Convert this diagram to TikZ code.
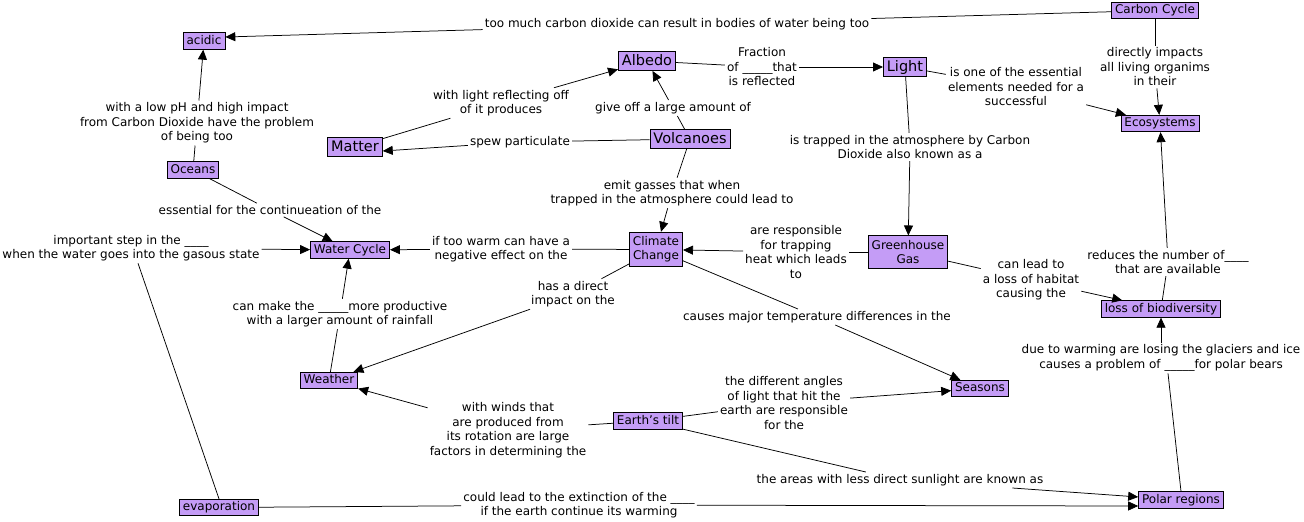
\documentclass[tikz,border=0pt]{standalone}
\usepackage{fontspec}
\setmainfont{DejaVu Sans}
\usetikzlibrary{arrows.meta,calc}
\definecolor{conc}{RGB}{196,156,246}
\begin{document}
\begin{tikzpicture}[x=1pt,y=-1pt,
 concept/.style={draw=black, fill=conc, line width=0.8pt, inner xsep=3.5pt, inner ysep=2.5pt, text height=9pt, text depth=2.5pt, font=\fontsize{12}{14}\selectfont, align=center},
 twoline/.style={text height={}, text depth={}, inner ysep=4.5pt},
 big/.style={font=\fontsize{14.5}{16}\selectfont, text height=11pt, text depth=3pt, inner ysep=2.5pt},
 lab/.style={inner sep=2pt, align=center, font=\fontsize{12}{14.5}\selectfont},
 link/.style={line width=0.75pt},
 arr/.style={link, -{Triangle[length=10pt,width=9pt]}}]
\useasboundingbox (0,0) rectangle (1304,522);
% concepts
\node[concept] (acidic) at (204,41) {acidic};
\node[concept] (carbon) at (1155,10.5) {Carbon Cycle};
\node[concept,big] (albedo) at (647,61) {Albedo};
\node[concept,big] (light) at (905,67) {Light};
\node[concept] (eco) at (1160,123.5) {Ecosystems};
\node[concept,big] (matter) at (355,147) {Matter};
\node[concept,big] (volc) at (690,139) {Volcanoes};
\node[concept] (oceans) at (193,170) {Oceans};
\node[concept] (water) at (350,250) {Water Cycle};
\node[concept,twoline] (climate) at (656,249.5) {Climate\\Change};
\node[concept,twoline] (ghg) at (908,252) {Greenhouse\\Gas};
\node[concept] (loss) at (1161,309) {loss of biodiversity};
\node[concept] (weather) at (329,380.5) {Weather};
\node[concept] (seasons) at (980,388.5) {Seasons};
\node[concept] (tilt) at (648,421) {Earth's tilt};
\node[concept] (evap) at (219,507.5) {evaporation};
\node[concept] (polar) at (1181,500) {Polar regions};
% labels
\node[lab] (l1) at (677,24) {too much carbon dioxide can result in bodies of water being too};
\node[lab] (l2) at (1155,67) {directly impacts\\all living organims\\in their};
\node[lab] (l3) at (762,67) {Fraction\\of \_\_\_\_\_that\\is reflected};
\node[lab] (l4) at (1016,87) {is one of the essential\\elements needed for a\\successful};
\node[lab] (l5) at (501,103) {with light reflecting off\\of it produces};
\node[lab] (l6) at (673,108) {give off a large amount of};
\node[lab] (l7) at (520,142) {spew particulate};
\node[lab] (l8) at (197,123) {with a low pH and high impact\\from Carbon Dioxide have the problem\\of being too};
\node[lab] (l9) at (910,147) {is trapped in the atmosphere by Carbon\\Dioxide also known as a};
\node[lab] (l10) at (672,193) {emit gasses that when\\trapped in the atmosphere could lead to};
\node[lab] (l11) at (270,210) {essential for the continueation of the};
\node[lab] (l12) at (131,248) {important step in the \_\_\_\_\\when the water goes into the gasous state};
\node[lab] (l13) at (501,249) {if too warm can have a\\negative effect on the};
\node[lab] (l14) at (796,252) {are responsible\\for trapping\\heat which leads\\to};
\node[lab] (l15) at (1031,280) {can lead to\\a loss of habitat\\causing the};
\node[lab] (l16) at (1168,262) {reduces the number of\_\_\_\_\\that are available};
\node[lab] (l17) at (573,294) {has a direct\\impact on the};
\node[lab] (l18) at (340,314) {can make the \_\_\_\_\_more productive\\with a larger amount of rainfall};
\node[lab] (l19) at (817,317) {causes major temperature differences in the};
\node[lab] (l20) at (1161,358) {due to warming are losing the glaciers and ice\\causes a problem of \_\_\_\_\_for polar bears};
\node[lab] (l21) at (784,403) {the different angles\\of light that hit the\\earth are responsible\\for the};
\node[lab] (l22) at (508,430) {with winds that\\are produced from\\its rotation are large\\factors in determining the};
\node[lab] (l23) at (900,480) {the areas with less direct sunlight are known as};
\node[lab] (l24) at (579,505) {could lead to the extinction of the \_\_\_\_\\if the earth continue its warming};
% links
\draw[link] (carbon) -- (l1); \draw[arr] (l1) -- ([yshift=4pt]acidic.east);
\draw[link] (carbon) -- (l2); \draw[arr] (l2) -- (eco);
\draw[link] (albedo) -- (l3); \draw[arr] (l3) -- (light);
\draw[link] (light) -- (l4); \draw[arr] (l4) -- (eco);
\draw[link] (matter) -- (l5); \draw[arr] (l5) -- (albedo);
\draw[link] (volc) -- (l6); \draw[arr] (l6) -- (albedo);
\draw[link] (volc) -- (l7); \draw[arr] (l7) -- ([yshift=-4pt]matter.east);
\draw[link] (oceans) -- (l8); \draw[arr] (l8) -- (acidic);
\draw[link] (light) -- (l9); \draw[arr] (l9) -- (ghg);
\draw[link] (volc) -- (l10); \draw[arr] (l10) -- (climate);
\draw[link] (oceans) -- (l11); \draw[arr] (l11) -- (water);
\draw[link] (evap.north) -- ([xshift=7pt]l12.south); \draw[arr] (l12) -- (water);
\draw[link] (climate) -- (l13); \draw[arr] (l13) -- (water);
\draw[link] (ghg) -- (l14); \draw[arr] (l14) -- (climate);
\draw[link] (ghg) -- (l15); \draw[arr] (l15) -- (loss);
\draw[link] (loss) -- (l16); \draw[arr] (l16) -- (eco);
\draw[link] (climate) -- (l17); \draw[arr] (l17) -- (weather);
\draw[link] (weather) -- (l18); \draw[arr] (l18) -- (water);
\draw[link] (climate) -- (l19); \draw[arr] (l19) -- (seasons);
\draw[link] (polar.north) -- ([xshift=7pt]l20.south); \draw[arr] (l20.north -| loss.south) -- (loss.south);
\draw[link] (tilt) -- (l21); \draw[arr] (l21) -- (seasons);
\draw[link] (tilt) -- (l22); \draw[arr] (l22) -- (weather);
\draw[link] (tilt) -- (l23); \draw[arr] (l23) -- (polar);
\draw[link] (evap) -- (l24); \draw[arr] (l24) -- ([yshift=-6pt]polar.west);
\end{tikzpicture}
\end{document}
